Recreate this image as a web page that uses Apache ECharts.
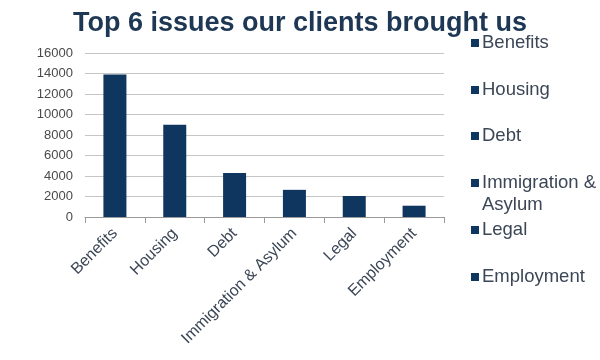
<!DOCTYPE html>
<html><head><meta charset="utf-8">
<script src="https://cdn.jsdelivr.net/npm/echarts@6/dist/echarts.min.js"></script>
<style>html,body{margin:0;padding:0;background:#fff}#c{width:600px;height:360px}</style>
</head><body><div id="c"></div>
<script>
const categories = ['Benefits', 'Housing', 'Debt', 'Immigration & Asylum', 'Legal', 'Employment'];
const values = [13900, 9000, 4300, 2650, 2050, 1100];
const yTicks = [0, 2000, 4000, 6000, 8000, 10000, 12000, 14000, 16000];

const barColor = '#0f365f';
const chart = echarts.init(document.getElementById('c'));
const series = categories.map((name, i) => ({
  name: name,
  type: 'bar',
  stack: 'all',
  barWidth: 23,
  itemStyle: { color: barColor },
  data: categories.map((c, j) => (j === i ? values[i] : null))
}));
const legendCenters = [43, 90, 136, 183, 230, 277];
const legends = categories.map((name, i) => {
  const multi = name.length > 15;
  const lh = 22;
  return {
    data: [name],
    orient: 'vertical',
    left: 471,
    top: multi ? legendCenters[i] - lh * 1.5 : legendCenters[i] - lh / 2,
    itemWidth: 8, itemHeight: 8, itemGap: 0,
    icon: 'rect',
    selectedMode: false,
    padding: 0,
    formatter: n => (n.length > 15 ? ' \nImmigration &\nAsylum' : n),
    textStyle: { fontFamily: 'Liberation Sans', fontSize: 18.5, color: '#3b4656', lineHeight: lh, padding: [0, 0, 0, -2] }
  };
});
chart.setOption({
  backgroundColor: '#ffffff',
  animation: false,
  title: {
    text: 'Top 6 issues our clients brought us',
    left: 'center', top: 5,
    textStyle: { fontFamily: 'Liberation Sans', fontWeight: 'bold', fontSize: 27, color: '#1d3754' }
  },
  legend: legends,
  grid: { left: 85, right: 156, top: 53, bottom: 143 },
  xAxis: {
    type: 'category',
    data: categories,
    axisLine: { lineStyle: { color: '#9a9a9a', width: 1 } },
    axisTick: { show: true, alignWithLabel: false, length: 6, lineStyle: { color: '#9a9a9a' } },
    axisLabel: { rotate: 45, interval: 0, margin: 14, fontFamily: 'Liberation Sans', fontSize: 16, color: '#3b4656' }
  },
  yAxis: {
    type: 'value',
    min: yTicks[0], max: yTicks[yTicks.length - 1], interval: yTicks[1] - yTicks[0],
    axisLine: { show: false }, axisTick: { show: false },
    axisLabel: { margin: 12, fontFamily: 'Liberation Sans', fontSize: 13, color: '#4a4a4a', formatter: v => String(v) },
    splitLine: { lineStyle: { color: '#c6c6c6', width: 1 } }
  },
  series: series
});
</script></body></html>
